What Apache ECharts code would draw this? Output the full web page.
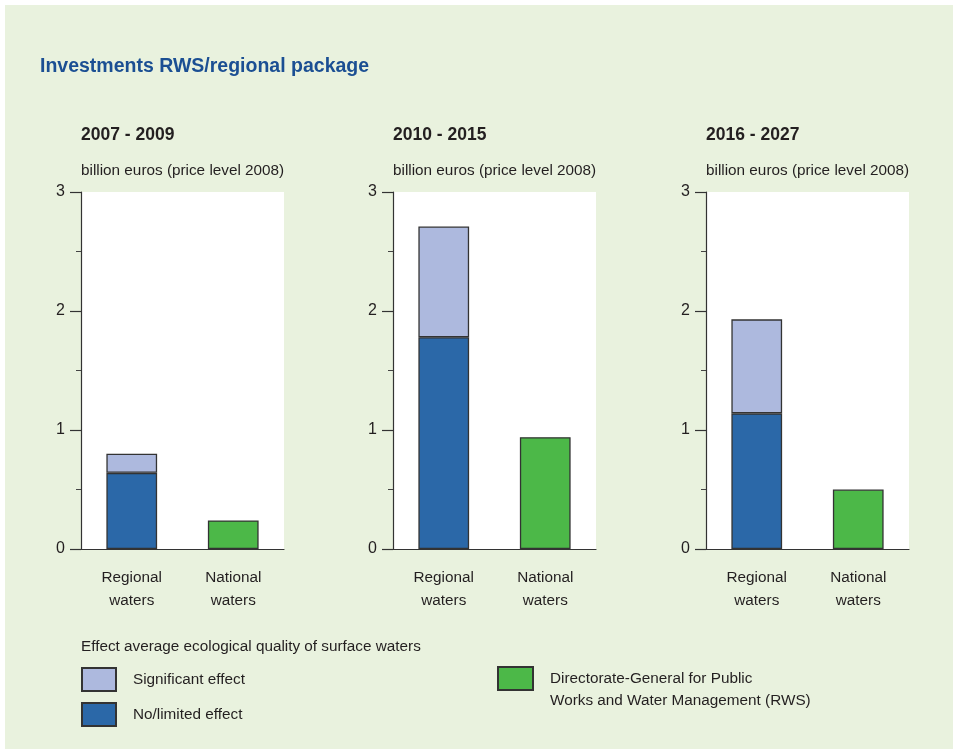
<!DOCTYPE html>
<html>
<head>
<meta charset="utf-8">
<script src="https://cdn.jsdelivr.net/npm/echarts@6/dist/echarts.min.js"></script>
<style>
html,body{margin:0;padding:0;background:#fff;}
#c{width:953px;height:749px;}
</style>
</head>
<body>
<div id="c"></div>
<script>
var title = 'Investments RWS/regional package';
var periods = ['2007 - 2009', '2010 - 2015', '2016 - 2027'];
var unitLabel = 'billion euros (price level 2008)';
var categories = ['Regional\nwaters', 'National\nwaters'];
var noLimited = [0.64, 1.78, 1.14];
var significant = [0.16, 0.93, 0.79];
var national = [0.24, 0.94, 0.50];
var legendHeader = 'Effect average ecological quality of surface waters';
var seriesNames = ['No/limited effect', 'Significant effect', 'RWS'];
var rwsLegendLines = ['Directorate-General for Public', 'Works and Water Management (RWS)'];

var FONT = '"Liberation Sans", Arial, sans-serif';
var TXT = '#231f20';
var colors = ['#2b68a8', '#adb9de', '#4cb848'];
var gridLefts = [81, 393, 706];
var gridWidth = 203;

var chart = echarts.init(document.getElementById('c'), null, {renderer: 'canvas'});

var grids = [], xAxes = [], yAxes = [], series = [], titles = [];
titles.push({text: title, left: 40, top: 57, padding: 0, textStyle: {fontFamily: FONT, fontSize: 19.5, fontWeight: 'bold', color: '#1b4f93'}});
for (var i = 0; i < 3; i++) {
  titles.push({text: periods[i], left: gridLefts[i], top: 126, padding: 0, textStyle: {fontFamily: FONT, fontSize: 17.5, fontWeight: 'bold', color: TXT}});
  titles.push({text: unitLabel, left: gridLefts[i], top: 163, padding: 0, textStyle: {fontFamily: FONT, fontSize: 15.3, fontWeight: 'normal', color: TXT}});
  grids.push({left: gridLefts[i], top: 192, width: gridWidth, height: 357, show: true, backgroundColor: '#ffffff', borderWidth: 0});
  xAxes.push({
    type: 'category', gridIndex: i, data: categories,
    axisLine: {show: true, lineStyle: {color: '#333', width: 1.2}},
    axisTick: {show: false},
    axisLabel: {margin: 17, fontFamily: FONT, fontSize: 15.3, lineHeight: 23, color: TXT}
  });
  yAxes.push({
    type: 'value', gridIndex: i, min: 0, max: 3, interval: 1,
    axisLine: {show: true, lineStyle: {color: '#333', width: 1.2}},
    axisTick: {show: true, length: 11, lineStyle: {color: '#333', width: 1.2}},
    minorTick: {show: true, splitNumber: 2, length: 5, lineStyle: {color: '#444', width: 1}},
    splitLine: {show: false},
    axisLabel: {margin: 16, fontFamily: FONT, fontSize: 16, color: TXT}
  });
  var bs = {borderColor: '#333', borderWidth: 1.3};
  series.push({name: seriesNames[0], type: 'bar', stack: 's' + i, xAxisIndex: i, yAxisIndex: i, barWidth: '50%',
    itemStyle: Object.assign({color: colors[0]}, bs), data: [noLimited[i], '-']});
  series.push({name: seriesNames[1], type: 'bar', stack: 's' + i, xAxisIndex: i, yAxisIndex: i, barWidth: '50%',
    itemStyle: Object.assign({color: colors[1]}, bs), data: [significant[i], '-']});
  series.push({name: seriesNames[2], type: 'bar', stack: 's' + i, xAxisIndex: i, yAxisIndex: i, barWidth: '50%',
    itemStyle: Object.assign({color: colors[2]}, bs), data: ['-', national[i]]});
}

var option = {
  backgroundColor: '#ffffff',
  animation: false,
  graphic: [
    {type: 'rect', z: -10, silent: true, shape: {x: 5, y: 5, width: 948, height: 744}, style: {fill: '#e9f2de'}},
    {type: 'text', left: 81, top: 639, silent: true, style: {text: legendHeader, font: '15.3px ' + FONT, fill: TXT}}
  ],
  title: titles,
  grid: grids,
  xAxis: xAxes,
  yAxis: yAxes,
  legend: [
    {data: [seriesNames[1], seriesNames[0]], orient: 'vertical', left: 81, top: 667, padding: 0, itemWidth: 34, itemHeight: 23, itemGap: 10,
      selectedMode: false, icon: 'rect',
      textStyle: {fontFamily: FONT, fontSize: 15.3, color: TXT, padding: [0, 0, 0, 12]}},
    {data: [seriesNames[2]], left: 497, top: 645.5, padding: 0, itemWidth: 35, itemHeight: 23, selectedMode: false, icon: 'rect',
      formatter: function () { return '\n' + rwsLegendLines.join('\n'); },
      textStyle: {fontFamily: FONT, fontSize: 15.3, lineHeight: 22, color: TXT, padding: [0, 0, 0, 12]}}
  ],
  series: series
};
chart.setOption(option);
</script>
</body>
</html>
